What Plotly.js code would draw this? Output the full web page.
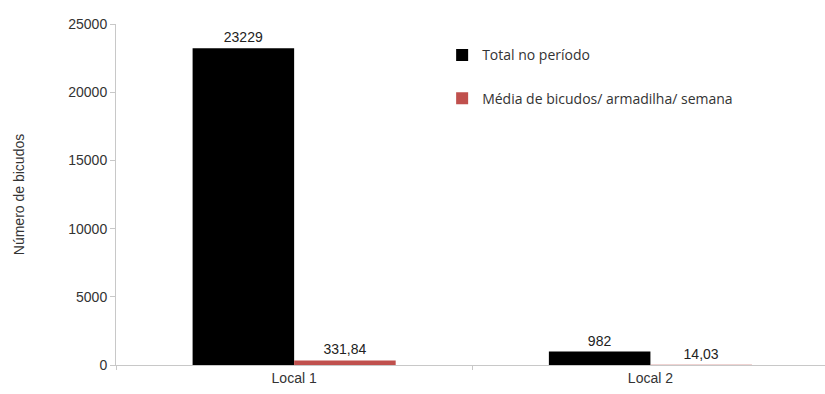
<!DOCTYPE html>
<html><head><meta charset="utf-8">
<script src="https://cdn.plot.ly/plotly-3.0.1.min.js"></script>
<style>body{margin:0;background:#fff}#c{width:825px;height:394px}</style>
</head><body><div id="c"></div>
<script>
const categories = ["Local 1", "Local 2"];
const totalNoPeriodo = [23229, 982];
const mediaBicudos = [331.84, 14.03];
const seriesNames = ["Total no período", "Média de bicudos/ armadilha/ semana"];
const yTicks = [0, 5000, 10000, 15000, 20000, 25000];

const fmt = v => (Number.isInteger(v) ? String(v) : v.toFixed(2).replace('.', ','));
const valFont = {family:'Liberation Sans, Arial', size:14, color:'#222'};

const traces = [
  {type:'bar', x:categories, y:totalNoPeriodo, name:seriesNames[0], legendgroup:'a',
   marker:{color:'#000000'}, text:totalNoPeriodo.map(fmt), textposition:'outside',
   textfont:valFont, cliponaxis:false},
  {type:'bar', x:categories, y:mediaBicudos, name:seriesNames[1], legendgroup:'b',
   marker:{color:'#c0504d'}, text:mediaBicudos.map(fmt), textposition:'outside',
   textfont:valFont, cliponaxis:false}
];

const layout = {
  width:825, height:394,
  margin:{l:116, r:0, t:24, b:29},
  paper_bgcolor:'#fff', plot_bgcolor:'#fff',
  barmode:'group', bargap:0.43, bargroupgap:0,
  showlegend:true,
  legend:{x:0.46, y:0.955, xanchor:'left', yanchor:'top', tracegroupgap:22, traceorder:'grouped',
    font:{family:'Open Sans, Liberation Sans', size:14, color:'#333'},
    itemwidth:30, bgcolor:'rgba(0,0,0,0)'},
  xaxis:{type:'category', range:[-0.5, 1.49], showline:true, linecolor:'#c8c8c8', linewidth:1,
    ticks:'outside', tickson:'boundaries', ticklen:4, tickcolor:'#c8c8c8',
    tickfont:{family:'Liberation Sans, Arial', size:14, color:'#333'}, showgrid:false, zeroline:false},
  yaxis:{range:[0, 25000], tickvals:yTicks, ticktext:yTicks.map(String), showline:true, linecolor:'#c8c8c8', linewidth:1,
    ticks:'outside', ticklen:5, tickcolor:'#c8c8c8', showgrid:false, zeroline:false,
    tickfont:{family:'Liberation Sans, Arial', size:14, color:'#333'},
    title:{text:'Número de bicudos', standoff:40, font:{family:'Liberation Sans, Arial', size:14, color:'#333'}}}
};
Plotly.newPlot('c', traces, layout, {staticPlot:true});
</script></body></html>
